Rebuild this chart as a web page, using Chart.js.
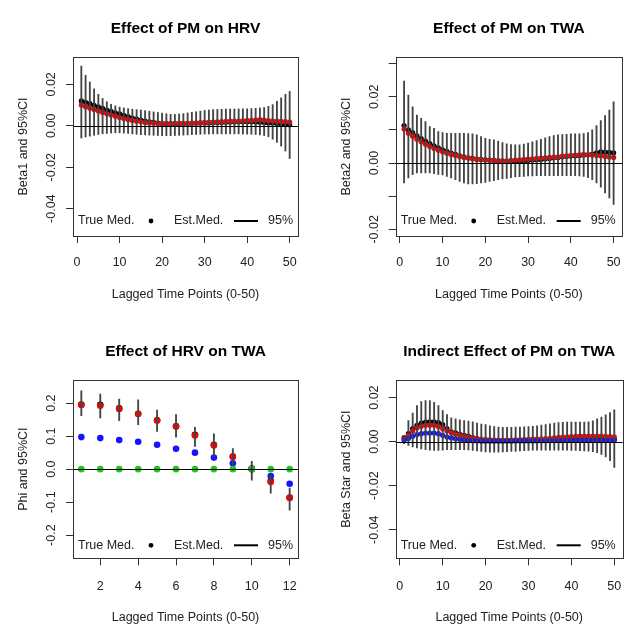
<!DOCTYPE html>
<html>
<head>
<meta charset="utf-8">
<script src="https://cdn.jsdelivr.net/npm/chart.js@4.4.1/dist/chart.umd.min.js"></script>
<style>
  body { margin: 0; background: #fff; }
  #wrap { position: relative; width: 627px; height: 629px; }
  #wrap canvas { position: absolute; }
</style>
</head>
<body>
<div id="wrap">
  <canvas id="c1" width="313" height="314" style="left:0;top:0"></canvas>
  <canvas id="c2" width="314" height="314" style="left:313px;top:0"></canvas>
  <canvas id="c3" width="313" height="315" style="left:0;top:314px"></canvas>
  <canvas id="c4" width="314" height="315" style="left:313px;top:314px"></canvas>
</div>
<script>
// lag indices
const lags50 = Array.from({ length: 50 }, (_, i) => i + 1);
const lags12 = [1, 2, 3, 4, 5, 6, 7, 8, 9, 10, 11, 12];

// Effect of PM on HRV (beta1)
const beta1True = [0.0120, 0.0113, 0.0107, 0.0099, 0.0091, 0.0084, 0.0076, 0.0070, 0.0063, 0.0057,
  0.0050, 0.0044, 0.0037, 0.0032, 0.0027, 0.0023, 0.0019, 0.0016, 0.0013, 0.0011,
  0.0010, 0.0010, 0.0010, 0.0010, 0.0011, 0.0011, 0.0012, 0.0012, 0.0013, 0.0014,
  0.0014, 0.0015, 0.0016, 0.0016, 0.0017, 0.0018, 0.0018, 0.0019, 0.0019, 0.0019,
  0.0019, 0.0018, 0.0017, 0.0016, 0.0014, 0.0013, 0.0011, 0.0009, 0.0007, 0.0005];
const beta1Est = [0.0100, 0.0092, 0.0085, 0.0078, 0.0071, 0.0064, 0.0058, 0.0052, 0.0046, 0.0040,
  0.0035, 0.0030, 0.0026, 0.0022, 0.0019, 0.0016, 0.0014, 0.0012, 0.0011, 0.0010,
  0.0010, 0.0010, 0.0011, 0.0011, 0.0012, 0.0012, 0.0013, 0.0014, 0.0015, 0.0016,
  0.0017, 0.0018, 0.0019, 0.0020, 0.0021, 0.0022, 0.0022, 0.0023, 0.0024, 0.0025,
  0.0026, 0.0028, 0.0030, 0.0028, 0.0025, 0.0023, 0.0022, 0.0021, 0.0020, 0.0018];
const beta1Hi = [0.0288, 0.0244, 0.0211, 0.0178, 0.0152, 0.0132, 0.0116, 0.0104, 0.0096, 0.0090,
  0.0086, 0.0083, 0.0080, 0.0078, 0.0076, 0.0073, 0.0070, 0.0067, 0.0064, 0.0061,
  0.0058, 0.0055, 0.0055, 0.0057, 0.0059, 0.0062, 0.0065, 0.0068, 0.0071, 0.0074,
  0.0076, 0.0078, 0.0079, 0.0080, 0.0081, 0.0081, 0.0081, 0.0081, 0.0082, 0.0082,
  0.0083, 0.0084, 0.0086, 0.0088, 0.0094, 0.0102, 0.0118, 0.0135, 0.0152, 0.0166];
const beta1Lo = [-0.0059, -0.0054, -0.0050, -0.0046, -0.0042, -0.0039, -0.0037, -0.0035, -0.0034, -0.0034,
  -0.0035, -0.0037, -0.0039, -0.0041, -0.0043, -0.0044, -0.0045, -0.0046, -0.0047, -0.0048,
  -0.0048, -0.0048, -0.0047, -0.0046, -0.0045, -0.0044, -0.0043, -0.0042, -0.0041, -0.0040,
  -0.0040, -0.0039, -0.0039, -0.0039, -0.0039, -0.0039, -0.0039, -0.0039, -0.0040, -0.0040,
  -0.0041, -0.0042, -0.0044, -0.0047, -0.0053, -0.0065, -0.0080, -0.0098, -0.0122, -0.0158];

// Effect of PM on TWA (beta2)
const beta2True = [0.0113, 0.0100, 0.0092, 0.0082, 0.0074, 0.0066, 0.0059, 0.0052, 0.0046, 0.0040,
  0.0035, 0.0030, 0.0026, 0.0022, 0.0019, 0.0016, 0.0014, 0.0012, 0.0011, 0.0010,
  0.0009, 0.0008, 0.0007, 0.0006, 0.0005, 0.0005, 0.0005, 0.0006, 0.0007, 0.0008,
  0.0009, 0.0010, 0.0011, 0.0013, 0.0014, 0.0016, 0.0017, 0.0019, 0.0020, 0.0021,
  0.0022, 0.0023, 0.0024, 0.0025, 0.0027, 0.0031, 0.0034, 0.0033, 0.0032, 0.0031];
const beta2Est = [0.0103, 0.0090, 0.0081, 0.0072, 0.0064, 0.0057, 0.0050, 0.0044, 0.0039, 0.0034,
  0.0030, 0.0026, 0.0023, 0.0020, 0.0017, 0.0015, 0.0013, 0.0011, 0.0010, 0.0009,
  0.0008, 0.0008, 0.0007, 0.0007, 0.0007, 0.0008, 0.0009, 0.0010, 0.0011, 0.0012,
  0.0013, 0.0014, 0.0015, 0.0016, 0.0017, 0.0018, 0.0019, 0.0021, 0.0022, 0.0023,
  0.0024, 0.0025, 0.0026, 0.0025, 0.0024, 0.0023, 0.0022, 0.0020, 0.0018, 0.0017];
const beta2Hi = [0.0247, 0.0205, 0.0170, 0.0145, 0.0135, 0.0125, 0.0110, 0.0105, 0.0095, 0.0092,
  0.0090, 0.0090, 0.0090, 0.0090, 0.0090, 0.0089, 0.0088, 0.0085, 0.0080, 0.0075,
  0.0072, 0.0070, 0.0066, 0.0062, 0.0058, 0.0056, 0.0055, 0.0055, 0.0057, 0.0060,
  0.0064, 0.0068, 0.0072, 0.0076, 0.0080, 0.0083, 0.0085, 0.0086, 0.0087, 0.0088,
  0.0088, 0.0088, 0.0089, 0.0092, 0.0100, 0.0113, 0.0128, 0.0143, 0.0160, 0.0185];
const beta2Lo = [-0.0060, -0.0045, -0.0035, -0.0030, -0.0030, -0.0030, -0.0030, -0.0032, -0.0034, -0.0036,
  -0.0040, -0.0045, -0.0050, -0.0055, -0.0060, -0.0063, -0.0063, -0.0062, -0.0060, -0.0058,
  -0.0055, -0.0053, -0.0050, -0.0048, -0.0046, -0.0044, -0.0042, -0.0041, -0.0040, -0.0039,
  -0.0039, -0.0038, -0.0038, -0.0038, -0.0038, -0.0038, -0.0038, -0.0038, -0.0038, -0.0038,
  -0.0038, -0.0039, -0.0040, -0.0044, -0.0050, -0.0060, -0.0073, -0.0090, -0.0105, -0.0125];

// Effect of HRV on TWA (phi)
const phiTrue = [0.196, 0.195, 0.184, 0.168, 0.148, 0.130, 0.104, 0.074, 0.038, 0.002, -0.036, -0.086];
const phiEst = [0.194, 0.192, 0.182, 0.167, 0.147, 0.129, 0.102, 0.072, 0.037, 0.000, -0.039, -0.087];
const phiBlue = [0.097, 0.094, 0.088, 0.083, 0.074, 0.062, 0.050, 0.035, 0.018, 0.000, -0.021, -0.044];
const phiGreen = [0, 0, 0, 0, 0, 0, 0, 0, 0, 0, 0, 0];
const phiHi = [0.237, 0.227, 0.212, 0.210, 0.179, 0.165, 0.127, 0.107, 0.062, 0.024, -0.018, -0.057];
const phiLo = [0.162, 0.155, 0.147, 0.135, 0.114, 0.097, 0.069, 0.037, 0.012, -0.033, -0.073, -0.124];

// Indirect effect of PM on TWA (beta star)
const bstarTrue = [0.0018, 0.0036, 0.0059, 0.0074, 0.0084, 0.0089, 0.0090, 0.0090, 0.0086, 0.0077,
  0.0059, 0.0044, 0.0040, 0.0033, 0.0028, 0.0024, 0.0018, 0.0014, 0.0010, 0.0008,
  0.0007, 0.0006, 0.0006, 0.0006, 0.0006, 0.0006, 0.0007, 0.0007, 0.0008, 0.0008,
  0.0009, 0.0009, 0.0009, 0.0010, 0.0010, 0.0010, 0.0011, 0.0011, 0.0011, 0.0012,
  0.0012, 0.0012, 0.0012, 0.0012, 0.0012, 0.0012, 0.0012, 0.0011, 0.0011, 0.0011];
const bstarEst = [0.0014, 0.0029, 0.0048, 0.0062, 0.0070, 0.0074, 0.0075, 0.0074, 0.0068, 0.0059,
  0.0048, 0.0040, 0.0034, 0.0029, 0.0024, 0.0020, 0.0016, 0.0012, 0.0010, 0.0009,
  0.0008, 0.0007, 0.0006, 0.0006, 0.0006, 0.0007, 0.0007, 0.0008, 0.0009, 0.0010,
  0.0011, 0.0012, 0.0013, 0.0014, 0.0015, 0.0017, 0.0019, 0.0021, 0.0022, 0.0023,
  0.0024, 0.0025, 0.0025, 0.0025, 0.0025, 0.0025, 0.0025, 0.0024, 0.0023, 0.0022];
const bstarBlue = [0.0006, 0.0014, 0.0024, 0.0032, 0.0036, 0.0039, 0.0039, 0.0039, 0.0036, 0.0029,
  0.0021, 0.0017, 0.0013, 0.0010, 0.0007, 0.0005, 0.0004, 0.0003, 0.0002, 0.0002,
  0.0002, 0.0002, 0.0002, 0.0002, 0.0002, 0.0002, 0.0003, 0.0003, 0.0003, 0.0003,
  0.0003, 0.0003, 0.0004, 0.0004, 0.0004, 0.0004, 0.0005, 0.0005, 0.0005, 0.0006,
  0.0006, 0.0006, 0.0006, 0.0006, 0.0006, 0.0006, 0.0006, 0.0006, 0.0006, 0.0006];
const bstarHi = [0.0029, 0.0096, 0.0130, 0.0164, 0.0182, 0.0186, 0.0186, 0.0179, 0.0164, 0.0141,
  0.0123, 0.0108, 0.0104, 0.0099, 0.0096, 0.0093, 0.0090, 0.0084, 0.0080, 0.0077,
  0.0072, 0.0068, 0.0066, 0.0065, 0.0065, 0.0065, 0.0066, 0.0066, 0.0067, 0.0068,
  0.0070, 0.0072, 0.0075, 0.0078, 0.0081, 0.0084, 0.0087, 0.0088, 0.0089, 0.0089,
  0.0089, 0.0089, 0.0089, 0.0090, 0.0094, 0.0104, 0.0112, 0.0122, 0.0132, 0.0144];
const bstarLo = [-0.0009, -0.0017, -0.0024, -0.0029, -0.0033, -0.0036, -0.0039, -0.0040, -0.0040, -0.0039,
  -0.0037, -0.0036, -0.0036, -0.0036, -0.0037, -0.0038, -0.0040, -0.0042, -0.0045, -0.0047,
  -0.0048, -0.0048, -0.0048, -0.0047, -0.0046, -0.0045, -0.0044, -0.0042, -0.0041, -0.0040,
  -0.0039, -0.0039, -0.0039, -0.0039, -0.0039, -0.0039, -0.0039, -0.0039, -0.0039, -0.0040,
  -0.0040, -0.0041, -0.0042, -0.0043, -0.0046, -0.0050, -0.0058, -0.0069, -0.0087, -0.0117];

// tick values and labels
const xTicks50 = [0, 10, 20, 30, 40, 50];
const xTicks12 = [2, 4, 6, 8, 10, 12];
const yTicksSmall = [-0.04, -0.02, 0, 0.02];
const yLabelsSmall = ['-0.04', '-0.02', '0.00', '0.02'];
const yTicks2 = [-0.02, -0.01, 0, 0.01, 0.02, 0.03];
const yLabels2 = ['-0.02', '', '0.00', '', '0.02', ''];
const yTicks3 = [-0.2, -0.1, 0, 0.1, 0.2];
const yLabels3 = ['-0.2', '-0.1', '0.0', '0.1', '0.2'];
const legendText = ['True Med.', 'Est.Med.', '95%'];

const FONT = "'Liberation Sans', Arial, Helvetica, sans-serif";
const INK = '#222';
const TXT = 12.5;

// draws the R-style box, zero line, rotated y labels, title and legend
const rBasePlot = {
  id: 'rBasePlot',
  afterDatasetsDraw(chart) {
    const { ctx, chartArea: a, scales: { y } } = chart;
    const y0 = Math.round(y.getPixelForValue(0)) + 0.5;
    ctx.save();
    ctx.strokeStyle = '#000';
    ctx.lineWidth = 1;
    ctx.beginPath();
    ctx.moveTo(a.left, y0);
    ctx.lineTo(a.right, y0);
    ctx.stroke();
    ctx.restore();
  },
  afterDraw(chart, args, opts) {
    const { ctx, chartArea: a, scales: { y } } = chart;
    ctx.save();
    ctx.strokeStyle = '#333';
    ctx.lineWidth = 1;
    ctx.strokeRect(Math.round(a.left) + 0.5, Math.round(a.top) + 0.5,
      Math.round(a.right - a.left), Math.round(a.bottom - a.top));

    ctx.fillStyle = INK;
    ctx.font = `${TXT}px ${FONT}`;
    ctx.textAlign = 'center';
    ctx.textBaseline = 'middle';
    opts.yTicks.forEach((v, i) => {
      if (!opts.yLabels[i]) return;
      ctx.save();
      ctx.translate(a.left - 21, y.getPixelForValue(v));
      ctx.rotate(-Math.PI / 2);
      ctx.fillText(opts.yLabels[i], 0, 0);
      ctx.restore();
    });

    ctx.font = `bold 15.5px ${FONT}`;
    ctx.fillStyle = '#000';
    ctx.fillText(opts.title, (a.left + a.right) / 2, a.top - 28);

    // legend row along the bottom of the box
    const ly = a.bottom - opts.legendDy;
    ctx.font = `${TXT}px ${FONT}`;
    ctx.fillStyle = INK;
    ctx.textAlign = 'left';
    ctx.fillText(legendText[0], a.left + 5, ly);
    ctx.fillText(legendText[1], a.left + 101, ly);
    ctx.fillText(legendText[2], a.left + 195, ly);
    ctx.fillStyle = '#000';
    ctx.beginPath();
    ctx.arc(a.left + 78, ly, 2.4, 0, Math.PI * 2);
    ctx.fill();
    ctx.strokeStyle = '#000';
    ctx.lineWidth = 2;
    ctx.beginPath();
    ctx.moveTo(a.left + 161, ly);
    ctx.lineTo(a.left + 185, ly);
    ctx.stroke();
    ctx.restore();
  }
};

function rPanel(id, p) {
  const cv = document.getElementById(id);
  const H = cv.height, W = cv.width;
  const datasets = [{
    type: 'bar',
    data: p.x.map((x, i) => ({ x, y: [p.lo[i], p.hi[i]] })),
    backgroundColor: '#444',
    borderWidth: 0,
    barThickness: 1.2,
    order: 0
  }];
  p.points.forEach((s, k) => datasets.push({
    type: 'scatter',
    data: p.x.map((x, i) => ({ x, y: s.values[i] })),
    backgroundColor: s.color,
    borderWidth: 0,
    pointRadius: p.radius,
    order: k + 1
  }));

  const axisFont = { family: FONT, size: TXT, lineHeight: 1.2 };
  new Chart(cv, {
    type: 'scatter',
    data: { datasets },
    plugins: [rBasePlot],
    options: {
      responsive: false,
      animation: false,
      events: [],
      layout: { padding: { left: 0, top: p.box.t, right: W - p.box.r, bottom: 0 } },
      plugins: {
        legend: { display: false },
        tooltip: { enabled: false },
        rBasePlot: { title: p.title, yTicks: p.yTicks, yLabels: p.yLabels, legendDy: p.legendDy }
      },
      scales: {
        x: {
          type: 'linear', min: p.xMin, max: p.xMax, offset: false,
          afterBuildTicks: s => { s.ticks = p.xTicks.map(v => ({ value: v })); },
          afterFit: s => {
            s.height = H - p.box.b;
            s.paddingLeft = 0;
            s.paddingRight = 0;
          },
          ticks: { autoSkip: false, maxRotation: 0, padding: p.tickPad, color: INK, font: axisFont, callback: v => String(v) },
          grid: { display: true, drawOnChartArea: false, drawTicks: true, tickLength: 7, color: '#333', offset: false },
          border: { display: false },
          title: { display: true, text: 'Lagged Time Points (0-50)', color: INK, font: axisFont,
            padding: { top: 0, bottom: H - p.box.b - 59 - TXT * 0.6 } }
        },
        y: {
          type: 'linear', min: p.yMin, max: p.yMax,
          afterBuildTicks: s => { s.ticks = p.yTicks.map(v => ({ value: v })); },
          afterFit: s => {
            s.width = p.box.l;
            s.paddingTop = 0;
            s.paddingBottom = 0;
          },
          ticks: { display: false },
          grid: { display: true, drawOnChartArea: false, drawTicks: true, tickLength: 7, color: '#333' },
          border: { display: false },
          title: { display: true, text: p.yTitle, color: INK, font: axisFont,
            padding: { top: p.box.l - 49 - TXT * 0.6, bottom: 0 } }
        }
      }
    }
  });
}

rPanel('c1', {
  title: 'Effect of PM on HRV', yTitle: 'Beta1 and 95%CI',
  box: { l: 73, t: 57, r: 298, b: 236 }, legendDy: 15, tickPad: 12,
  x: lags50, xMin: -0.96, xMax: 51.96, xTicks: xTicks50,
  yMin: -0.0532, yMax: 0.0332, yTicks: yTicksSmall, yLabels: yLabelsSmall,
  lo: beta1Lo, hi: beta1Hi, radius: 2.6,
  points: [{ values: beta1Est, color: '#ff0000' }, { values: beta1True, color: '#000000' }]
});

rPanel('c2', {
  title: 'Effect of PM on TWA', yTitle: 'Beta2 and 95%CI',
  box: { l: 82.7, t: 57, r: 309, b: 236 }, legendDy: 15, tickPad: 12,
  x: lags50, xMin: -0.96, xMax: 51.96, xTicks: xTicks50,
  yMin: -0.022, yMax: 0.032, yTicks: yTicks2, yLabels: yLabels2,
  lo: beta2Lo, hi: beta2Hi, radius: 2.6,
  points: [{ values: beta2Est, color: '#ff0000' }, { values: beta2True, color: '#000000' }]
});

rPanel('c3', {
  title: 'Effect of HRV on TWA', yTitle: 'Phi and 95%CI',
  box: { l: 73, t: 66, r: 298, b: 244.3 }, legendDy: 13, tickPad: 14,
  x: lags12, xMin: 0.56, xMax: 12.44, xTicks: xTicks12,
  yMin: -0.27, yMax: 0.27, yTicks: yTicks3, yLabels: yLabels3,
  lo: phiLo, hi: phiHi, radius: 3.3,
  points: [{ values: phiGreen, color: '#22c422' }, { values: phiBlue, color: '#1414ff' },
    { values: phiEst, color: '#ff0000' }, { values: phiTrue, color: '#000000' }]
});

rPanel('c4', {
  title: 'Indirect Effect of PM on TWA', yTitle: 'Beta Star and 95%CI',
  box: { l: 82.7, t: 66, r: 309.7, b: 244.3 }, legendDy: 13, tickPad: 14,
  x: lags50, xMin: -0.96, xMax: 51.96, xTicks: xTicks50,
  yMin: -0.053, yMax: 0.028, yTicks: yTicksSmall, yLabels: yLabelsSmall,
  lo: bstarLo, hi: bstarHi, radius: 2.6,
  points: [{ values: bstarBlue, color: '#1414ff' }, { values: bstarEst, color: '#ff0000' },
    { values: bstarTrue, color: '#000000' }]
});
</script>
</body>
</html>
